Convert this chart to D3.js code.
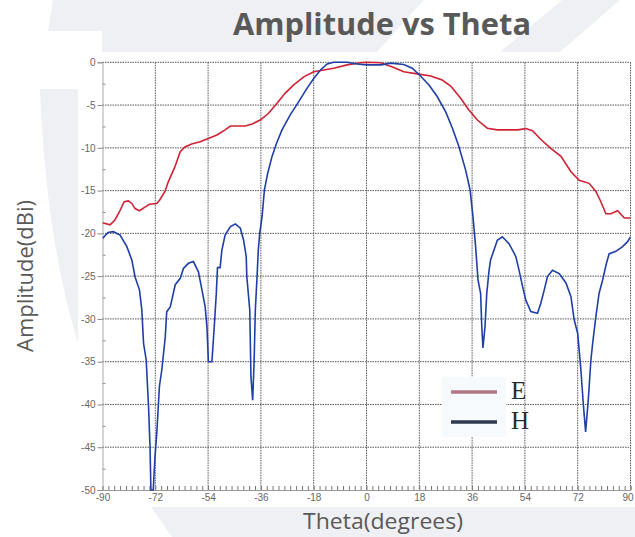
<!DOCTYPE html>
<html><head><meta charset="utf-8">
<script src="https://cdn.jsdelivr.net/npm/d3@7"></script>
<style>html,body{margin:0;padding:0;background:#fff;}svg{display:block;}</style>
</head><body>
<script>
// ---- data ----
const xTicks = [-90,-72,-54,-36,-18,0,18,36,54,72,90];
const xTickLabels = ["-90","-72","-54","-36","-18","0","18","36","54","72","90"];
const yTicks = [0,-5,-10,-15,-20,-25,-30,-35,-40,-45,-50];
const yTickLabels = ["0","-5","-10","-15","-20","-25","-30","-35","-40","-45","-50"];
const seriesNames = ["E","H"];
const thetaE = [-90,-87.4,-85.7,-84,-82.6,-81.2,-80,-78.9,-77.4,-75.4,-74,-71.5,-70.5,-68.7,-67.6,-65.3,-63.5,-61.9,-59.6,-56.7,-53.9,-51,-48.2,-46.4,-44.7,-41.3,-39,-36.2,-33.4,-30.5,-27.7,-24.8,-21.4,-18,-14.6,-11.2,-6.6,-2,0,4.8,9.3,12.7,17.3,21.9,25.8,28.7,32.1,34.9,37.8,41.2,44.6,51.5,54.3,56.6,59.4,62.8,66.3,69.7,72.5,75.9,78.2,79.9,81.6,83.3,85.6,87.9,90];
const ampE = [-18.75,-19.0,-18.4,-17.3,-16.3,-16.2,-16.5,-17.1,-17.35,-16.9,-16.6,-16.5,-16.1,-15.1,-14.0,-12.2,-10.45,-9.9,-9.55,-9.3,-8.9,-8.5,-7.9,-7.45,-7.45,-7.45,-7.2,-6.75,-5.96,-4.8,-3.6,-2.65,-1.7,-1.1,-0.9,-0.7,-0.3,-0.05,0,-0.05,-0.6,-1.1,-1.35,-1.6,-2.07,-2.77,-4.2,-5.58,-6.75,-7.7,-7.9,-7.9,-7.75,-8.0,-9.0,-10.05,-11.0,-12.8,-13.8,-14.15,-15.1,-16.3,-17.7,-17.7,-17.35,-18.2,-18.2];
const thetaH = [-90,-88.1,-86.3,-84,-81.7,-80,-78.9,-77.4,-76.6,-76,-75.1,-74.3,-73.8,-73.5,-72.7,-72.1,-71.5,-70.6,-69.8,-68.6,-68.1,-66.9,-65.2,-63.5,-62.4,-60.7,-59,-57.3,-56.1,-55,-54.4,-53.9,-52.7,-51.9,-51.2,-50.8,-49.9,-49.3,-48.2,-46.4,-44.7,-43,-41.9,-41,-40.8,-39.8,-39.4,-38.8,-38.3,-37.9,-37.3,-36.9,-36.4,-35.6,-34.8,-33.7,-32.2,-30.7,-28.8,-26,-23.1,-20.3,-18,-15.7,-13.4,-11.2,-6.6,-3.2,0,5,8.2,12.7,15.6,18.4,21.3,24.1,27,29.3,31.5,33.8,35.3,36.3,37.2,38,38.9,39.3,39.7,40.4,41,41.8,42.3,44.6,46.3,48.6,50.9,52,53.2,54.3,56,58.3,59.4,60.6,61.7,63.4,65.7,68,69.7,70.8,72,73.1,73.9,74.7,75.6,76.5,77.1,78.2,79.3,80.5,81.8,82.7,85,87.3,89,90];
const ampH = [-20.6,-19.9,-19.8,-20.2,-21.55,-23.1,-25.1,-26.6,-28.95,-32.85,-34.8,-40.3,-44.9,-50,-50,-46.1,-43.4,-37.9,-36,-32.1,-29.15,-28.6,-26.0,-25.25,-24.1,-23.5,-23.3,-24.5,-26.6,-28.6,-30.9,-35,-35,-30.9,-27,-24.0,-24.0,-21.95,-20.2,-19.2,-18.9,-19.4,-20.8,-22.7,-25.05,-28.95,-36.75,-39.5,-34.8,-28.95,-25.0,-22.0,-20.0,-18.05,-14.9,-13,-11.0,-9.5,-7.9,-6.15,-4.6,-3.05,-1.9,-0.9,-0.2,0,0,-0.2,-0.3,-0.3,-0.1,-0.25,-0.7,-1.6,-2.65,-4.0,-5.8,-7.7,-9.85,-12.6,-14.9,-18.05,-21.55,-25.4,-27,-30.9,-33.4,-30.9,-27,-24.3,-23.1,-20.8,-20.4,-21.2,-22.7,-24.3,-26.2,-27.8,-29.15,-29.35,-28.2,-26.6,-25.05,-24.3,-24.7,-25.8,-27.4,-30.1,-31.7,-36,-39.9,-43.2,-39.5,-34.8,-32.85,-29.7,-27,-25.45,-23.5,-22.4,-22.1,-21.55,-20.97,-20.4];

const W = 635, H = 537;
const svg = d3.select("body").append("svg").attr("width", W).attr("height", H);

// background watermark shapes
const bg = "#eff0f4";
svg.append("path").attr("fill", bg).attr("d","M53,0 L424,0 L377,52 L102,52 L102,31 L48,31 Z");
svg.append("path").attr("fill", bg).attr("d","M562,0 L620,0 L560,52 L500,52 Z");
svg.append("path").attr("fill", bg).attr("d","M40,89 L78,89 L78,343 Q46,240 40,89 Z");
svg.append("path").attr("fill", bg).attr("d","M151,507 L635,507 L635,537 L172,537 Z");

const x = d3.scaleLinear().domain([-90, 90]).range([102.5, 630.5]);
const y = d3.scaleLinear().domain([-50, 0]).range([490, 62.3]);

const plot = svg.append("g");
plot.append("rect").attr("x", x(-90)).attr("y", y(0)).attr("width", x(90)-x(-90)).attr("height", y(-50)-y(0)).attr("fill","#fff");

// grid
plot.append("g").selectAll("line").data(xTicks.slice(1)).join("line")
  .attr("x1", d=>x(d)).attr("x2", d=>x(d)).attr("y1", y(0)).attr("y2", y(-50))
  .attr("stroke","#555").attr("stroke-dasharray","1.5,1").attr("stroke-width",1);
plot.append("g").selectAll("line").data(yTicks.slice(0,-1)).join("line")
  .attr("y1", d=>y(d)).attr("y2", d=>y(d)).attr("x1", x(-90)).attr("x2", x(90))
  .attr("stroke","#555").attr("stroke-dasharray","1.5,1").attr("stroke-width",1);

// axes
const xAxis = d3.axisBottom(x).tickValues(d3.range(-90, 91, 2)).tickSize(-4).tickFormat("");
const gx = svg.append("g").attr("transform", `translate(0,${y(-50)})`).call(xAxis);
gx.select(".domain").attr("stroke","#999");
gx.selectAll(".tick line").attr("stroke","#777");

const xLab = d3.axisBottom(x).tickValues(xTicks).tickSize(0).tickPadding(4)
  .tickFormat((d,i)=>xTickLabels[i]);
const gxl = svg.append("g").attr("transform", `translate(0,${y(-50)})`).call(xLab);
gxl.select(".domain").remove();
gxl.selectAll("text").attr("fill","#666").style("font-family","Liberation Sans, Arial, sans-serif").style("font-size","10px");
gxl.selectAll("text").filter(d=>d===90).attr("dx", -3);

const yMinor = d3.axisRight(y).tickValues(d3.range(-47.5, 0, 5)).tickSize(3).tickFormat("");
const gym = svg.append("g").attr("transform", `translate(${x(-90)},0)`).call(yMinor);
gym.select(".domain").remove();
gym.selectAll(".tick line").attr("stroke","#888");

const yAxis = d3.axisLeft(y).tickValues(yTicks).tickSize(5).tickPadding(2)
  .tickFormat((d,i)=>yTickLabels[i]);
const gy = svg.append("g").attr("transform", `translate(${x(-90)},0)`).call(yAxis);
gy.select(".domain").attr("stroke","#aaa");
gy.selectAll(".tick line").attr("stroke","#888");
gy.selectAll("text").attr("fill","#666").style("font-family","Liberation Sans, Arial, sans-serif").style("font-size","10px");

// curves
svg.append("defs").append("clipPath").attr("id","clip").append("rect")
  .attr("x", x(-90)).attr("y", y(0)-2).attr("width", x(90)-x(-90)).attr("height", y(-50)-y(0)+3);
const line = d3.line().x(d=>x(d[0])).y(d=>y(d[1]));
const dataE = thetaE.map((t,i)=>[t, ampE[i]]);
const dataH = thetaH.map((t,i)=>[t, ampH[i]]);
const curves = svg.append("g").attr("clip-path","url(#clip)");
curves.append("path").datum(dataE).attr("d", line).attr("fill","none").attr("stroke","#cf2233").attr("stroke-width",1.6);
curves.append("path").datum(dataH).attr("d", line).attr("fill","none").attr("stroke","#1f3fa6").attr("stroke-width",1.6);

// legend
const lg = svg.append("g");
lg.append("rect").attr("x",442).attr("y",377).attr("width",64).attr("height",60).attr("fill","#f7fafc");
const legColors = ["#b27583","#2f3a4f"];
seriesNames.forEach((n,i)=>{
  const yy = 392 + i*30;
  lg.append("line").attr("x1",451).attr("x2",497).attr("y1",yy).attr("y2",yy)
    .attr("stroke",legColors[i]).attr("stroke-width",3.5);
  lg.append("text").attr("x",511).attr("y",yy+7).text(n)
    .attr("fill","#2a2a2a").style("font-family","Liberation Serif, Times New Roman, serif").style("font-size","25px");
});

// title & axis labels
svg.append("text").attr("x",382).attr("y",35).attr("text-anchor","middle")
  .attr("textLength",298).attr("lengthAdjust","spacingAndGlyphs")
  .style("font-family","Open Sans, sans-serif").style("font-weight","bold").style("font-size","31px")
  .attr("fill","#595959").text("Amplitude vs Theta");
svg.append("text").attr("x",383).attr("y",529).attr("text-anchor","middle")
  .attr("textLength",160).attr("lengthAdjust","spacingAndGlyphs")
  .style("font-family","Open Sans, sans-serif").style("font-size","21px")
  .attr("fill","#595959").text("Theta(degrees)");
svg.append("text").attr("transform","translate(33,276) rotate(-90)").attr("text-anchor","middle")
  .attr("textLength",152).attr("lengthAdjust","spacingAndGlyphs")
  .style("font-family","Open Sans, sans-serif").style("font-size","21px")
  .attr("fill","#595959").text("Amplitude(dBi)");
</script>
</body></html>
